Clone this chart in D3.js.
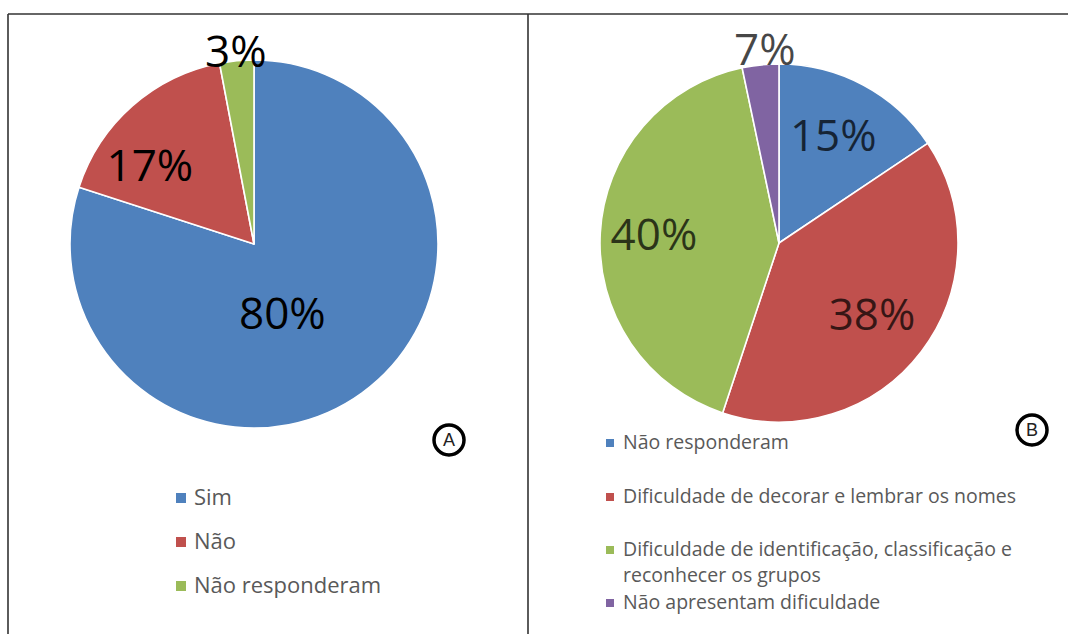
<!DOCTYPE html>
<html>
<head>
<meta charset="utf-8">
<script src="https://cdn.jsdelivr.net/npm/d3@7"></script>
<style>
  html, body { margin: 0; padding: 0; background: #fff; }
  svg { display: block; }
</style>
</head>
<body>
<svg id="chart" width="1068" height="634"></svg>
<script>
// ---------- DATA ----------
// Panel A
const categoriesA = ["Sim", "Não", "Não responderam"];
const valuesA = [80, 17, 3];
const labelsA = ["80%", "17%", "3%"];

// Panel B (slice shares as drawn; printed labels kept separately)
const categoriesB = [
  "Não responderam",
  "Dificuldade de decorar e lembrar os nomes",
  "Dificuldade de identificação, classificação e reconhecer os grupos",
  "Não apresentam dificuldade"
];
const valuesB = [15.6, 39.5, 41.6, 3.3];
const labelsB = ["15%", "38%", "40%", "7%"];

// ---------- STYLE / LAYOUT ----------
const colorsA = ["#4F81BD", "#C0504D", "#9BBB59"];
const colorsB = ["#4F81BD", "#C0504D", "#9BBB59", "#8064A2"];

const svg = d3.select("#chart");

// frame lines
const frame = svg.append("g").attr("stroke", "#333").attr("stroke-width", 1.6).attr("fill", "none");
frame.append("line").attr("x1", 8).attr("y1", 14).attr("x2", 1068).attr("y2", 14);
frame.append("line").attr("x1", 8).attr("y1", 14).attr("x2", 8).attr("y2", 634);
frame.append("line").attr("x1", 528).attr("y1", 14).attr("x2", 528).attr("y2", 634);

function drawPie(cfg) {
  const pie = d3.pie().sort(null).value(d => d)(cfg.values);
  const arc = d3.arc().innerRadius(0).outerRadius(cfg.r);
  const g = svg.append("g").attr("transform", `translate(${cfg.cx},${cfg.cy})`);
  g.selectAll("path.slice")
    .data(pie)
    .join("path")
    .attr("class", "slice")
    .attr("d", arc)
    .attr("fill", (d, i) => cfg.colors[i])
    .attr("stroke", "#fff")
    .attr("stroke-width", 1.6)
    .attr("stroke-linejoin", "round");

  g.selectAll("text.lbl")
    .data(pie)
    .join("text")
    .attr("class", "lbl")
    .attr("x", (d, i) => {
      const m = (d.startAngle + d.endAngle) / 2;
      return Math.sin(m) * cfg.r * cfg.labelK[i] + cfg.nudge[i][0];
    })
    .attr("y", (d, i) => {
      const m = (d.startAngle + d.endAngle) / 2;
      return -Math.cos(m) * cfg.r * cfg.labelK[i] + cfg.nudge[i][1];
    })
    .attr("dy", "0.36em")
    .attr("text-anchor", "middle")
    .attr("font-family", "'Open Sans', sans-serif")
    .attr("font-size", 44)
    .attr("fill", cfg.labelColor)
    .attr("fill-opacity", cfg.labelOpacity)
    .text((d, i) => cfg.labels[i]);
}

drawPie({
  cx: 254, cy: 244, r: 184,
  values: valuesA, colors: colorsA, labels: labelsA,
  labelK: [0.41, 0.70, 1.055],
  nudge: [[-16, 8], [-19, 18], [0, 0]],
  labelColor: "#000", labelOpacity: 1
});

drawPie({
  cx: 779, cy: 243, r: 179,
  values: valuesB, colors: colorsB, labels: labelsB,
  labelK: [0.68, 0.66, 0.70, 1.09],
  nudge: [[-3, 0], [-1, 0], [0, -2], [6, 0]],
  labelColor: "#000", labelOpacity: 0.72
});

// circled panel markers
function marker(x, y, letter) {
  const g = svg.append("g").attr("transform", `translate(${x},${y})`);
  g.append("circle").attr("r", 15).attr("fill", "#fff").attr("stroke", "#000").attr("stroke-width", 3.5);
  g.append("text").attr("text-anchor", "middle").attr("dy", "0.36em")
    .attr("font-family", "'Liberation Sans', Arial, sans-serif").attr("font-size", 18)
    .attr("fill", "#222").text(letter);
}
marker(449, 440, "A");
marker(1032, 430, "B");

// legend A
const legA = svg.append("g");
const legAy = [505, 549, 593];
categoriesA.forEach((c, i) => {
  legA.append("rect").attr("x", 176).attr("y", legAy[i] - 12).attr("width", 10).attr("height", 10).attr("fill", colorsA[i]);
  legA.append("text").attr("x", 194).attr("y", legAy[i])
    .attr("font-family", "'Open Sans', sans-serif").attr("font-size", 22)
    .attr("fill", "#595959").text(c);
});

// legend B (third entry wraps onto two lines)
const legB = svg.append("g");
const legBLines = [
  [categoriesB[0]],
  [categoriesB[1]],
  ["Dificuldade de identificação, classificação e", "reconhecer os grupos"],
  [categoriesB[3]]
];
const legBy = [449, 503, 556, 609];
legBLines.forEach((lines, i) => {
  legB.append("rect").attr("x", 606).attr("y", legBy[i] - 10).attr("width", 8).attr("height", 8).attr("fill", colorsB[i]);
  lines.forEach((ln, j) => {
    legB.append("text").attr("x", 623).attr("y", legBy[i] + j * 26)
      .attr("font-family", "'Open Sans', sans-serif").attr("font-size", 19.5)
      .attr("fill", "#595959").text(ln);
  });
});
</script>
</body>
</html>
